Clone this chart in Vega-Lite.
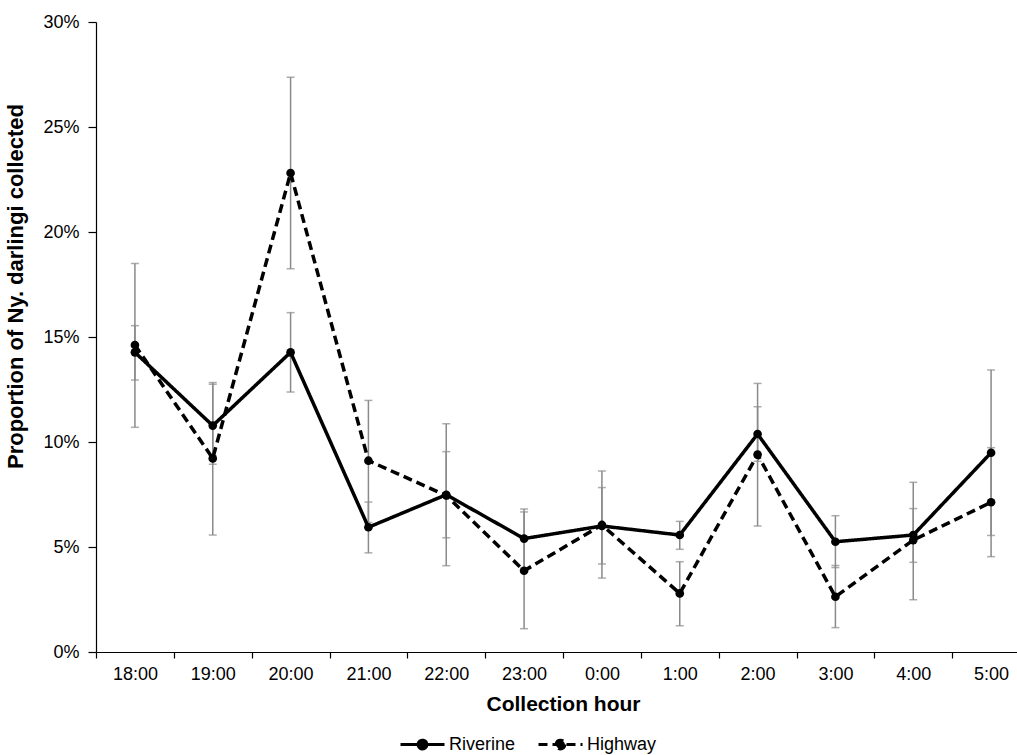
{
  "$schema": "https://vega.github.io/schema/vega-lite/v6.json",
  "width": 921,
  "height": 630,
  "autosize": {"type": "none"},
  "padding": {"left": 96, "top": 22, "right": 0, "bottom": 103},
  "background": "white",
  "config": {
    "view": {"stroke": null},
    "font": "Liberation Sans",
    "axis": {"domainColor": "#000000", "tickColor": "#000000", "labelColor": "#000000", "titleColor": "#000000", "grid": false, "labelFont": "Liberation Sans", "titleFont": "Liberation Sans"}
  },
  "data": {
    "values": [
      {"hour": "18:00", "series": "Riverine", "value": 0.1427, "lo": 0.1295, "hi": 0.1554},
      {"hour": "19:00", "series": "Riverine", "value": 0.1078, "lo": 0.0894, "hi": 0.1275},
      {"hour": "20:00", "series": "Riverine", "value": 0.1427, "lo": 0.1238, "hi": 0.1616},
      {"hour": "21:00", "series": "Riverine", "value": 0.0594, "lo": 0.0472, "hi": 0.0714},
      {"hour": "22:00", "series": "Riverine", "value": 0.0749, "lo": 0.0544, "hi": 0.0954},
      {"hour": "23:00", "series": "Riverine", "value": 0.0540, "lo": 0.0399, "hi": 0.0681},
      {"hour": "0:00", "series": "Riverine", "value": 0.0600, "lo": 0.0419, "hi": 0.0783},
      {"hour": "1:00", "series": "Riverine", "value": 0.0557, "lo": 0.0489, "hi": 0.0622},
      {"hour": "2:00", "series": "Riverine", "value": 0.1038, "lo": 0.0908, "hi": 0.1168},
      {"hour": "3:00", "series": "Riverine", "value": 0.0525, "lo": 0.0402, "hi": 0.0649},
      {"hour": "4:00", "series": "Riverine", "value": 0.0557, "lo": 0.0427, "hi": 0.0683},
      {"hour": "5:00", "series": "Riverine", "value": 0.0949, "lo": 0.0555, "hi": 0.1343},
      {"hour": "18:00", "series": "Highway", "value": 0.1462, "lo": 0.1070, "hi": 0.1850},
      {"hour": "19:00", "series": "Highway", "value": 0.0922, "lo": 0.0557, "hi": 0.1283},
      {"hour": "20:00", "series": "Highway", "value": 0.2281, "lo": 0.1825, "hi": 0.2737},
      {"hour": "21:00", "series": "Highway", "value": 0.0911, "lo": 0.0617, "hi": 0.1198},
      {"hour": "22:00", "series": "Highway", "value": 0.0745, "lo": 0.0411, "hi": 0.1087},
      {"hour": "23:00", "series": "Highway", "value": 0.0387, "lo": 0.0111, "hi": 0.0667},
      {"hour": "0:00", "series": "Highway", "value": 0.0605, "lo": 0.0352, "hi": 0.0862},
      {"hour": "1:00", "series": "Highway", "value": 0.0279, "lo": 0.0125, "hi": 0.0430},
      {"hour": "2:00", "series": "Highway", "value": 0.0940, "lo": 0.0600, "hi": 0.1279},
      {"hour": "3:00", "series": "Highway", "value": 0.0263, "lo": 0.0116, "hi": 0.0412},
      {"hour": "4:00", "series": "Highway", "value": 0.0533, "lo": 0.0249, "hi": 0.0808},
      {"hour": "5:00", "series": "Highway", "value": 0.0713, "lo": 0.0454, "hi": 0.0973}
    ]
  },
  "encoding": {
    "x": {
      "field": "hour", "type": "nominal",
      "sort": ["18:00","19:00","20:00","21:00","22:00","23:00","0:00","1:00","2:00","3:00","4:00","5:00"],
      "scale": {"range": [0, 934], "paddingInner": 0, "paddingOuter": 0},
      "axis": {
        "title": "Collection hour", "titleFontSize": 21, "titleFontWeight": "bold", "titlePadding": 10,
        "labelAngle": 0, "labelFontSize": 18, "labelPadding": 7, "tickBand": "extent", "tickSize": 6, "domainWidth": 1.2, "tickWidth": 1.2
      }
    }
  },
  "layer": [
    {
      "mark": {"type": "errorbar", "color": "#8a8a8a", "thickness": 1.5, "ticks": {"size": 8, "thickness": 1.5, "color": "#8a8a8a"}},
      "encoding": {
        "y": {"field": "lo", "type": "quantitative", "scale": {"domain": [0, 0.3]},
          "axis": {"title": "Proportion of Ny. darlingi collected", "format": "%", "values": [0, 0.05, 0.1, 0.15, 0.2, 0.25, 0.3],
            "titleFontSize": 22, "titleFontWeight": "bold", "titleX": -74, "titleY": 264, "titleBaseline": "alphabetic", "titleAngle": -90, "titleAnchor": "middle",
            "labelFontSize": 18, "labelPadding": 9, "tickSize": 8, "domainWidth": 1.2, "tickWidth": 1.2}},
        "y2": {"field": "hi"},
        "detail": {"field": "series"}
      }
    },
    {
      "mark": {"type": "line", "color": "#000000", "strokeWidth": 3.5},
      "encoding": {
        "y": {"field": "value", "type": "quantitative"},
        "strokeDash": {
          "field": "series", "type": "nominal",
          "scale": {"domain": ["Riverine", "Highway"], "range": [[1, 0], [9, 5]]},
          "legend": {
            "title": null, "orient": "none", "direction": "horizontal", "legendX": 303, "legendY": 699,
            "symbolType": "M-1,0L1,0M0.2,0A0.2,0.2,0,1,1,-0.2,0A0.2,0.2,0,1,1,0.2,0Z",
            "symbolSize": 1936, "symbolStrokeWidth": 3, "symbolStrokeColor": "#000000", "symbolFillColor": "#000000",
            "labelFontSize": 18, "labelColor": "#000000", "labelOffset": 3, "columnPadding": 16, "padding": 0
          }
        }
      }
    },
    {
      "mark": {"type": "point", "filled": true, "color": "#000000", "size": 75, "opacity": 1},
      "encoding": {
        "y": {"field": "value", "type": "quantitative"},
        "detail": {"field": "series"}
      }
    }
  ]
}
